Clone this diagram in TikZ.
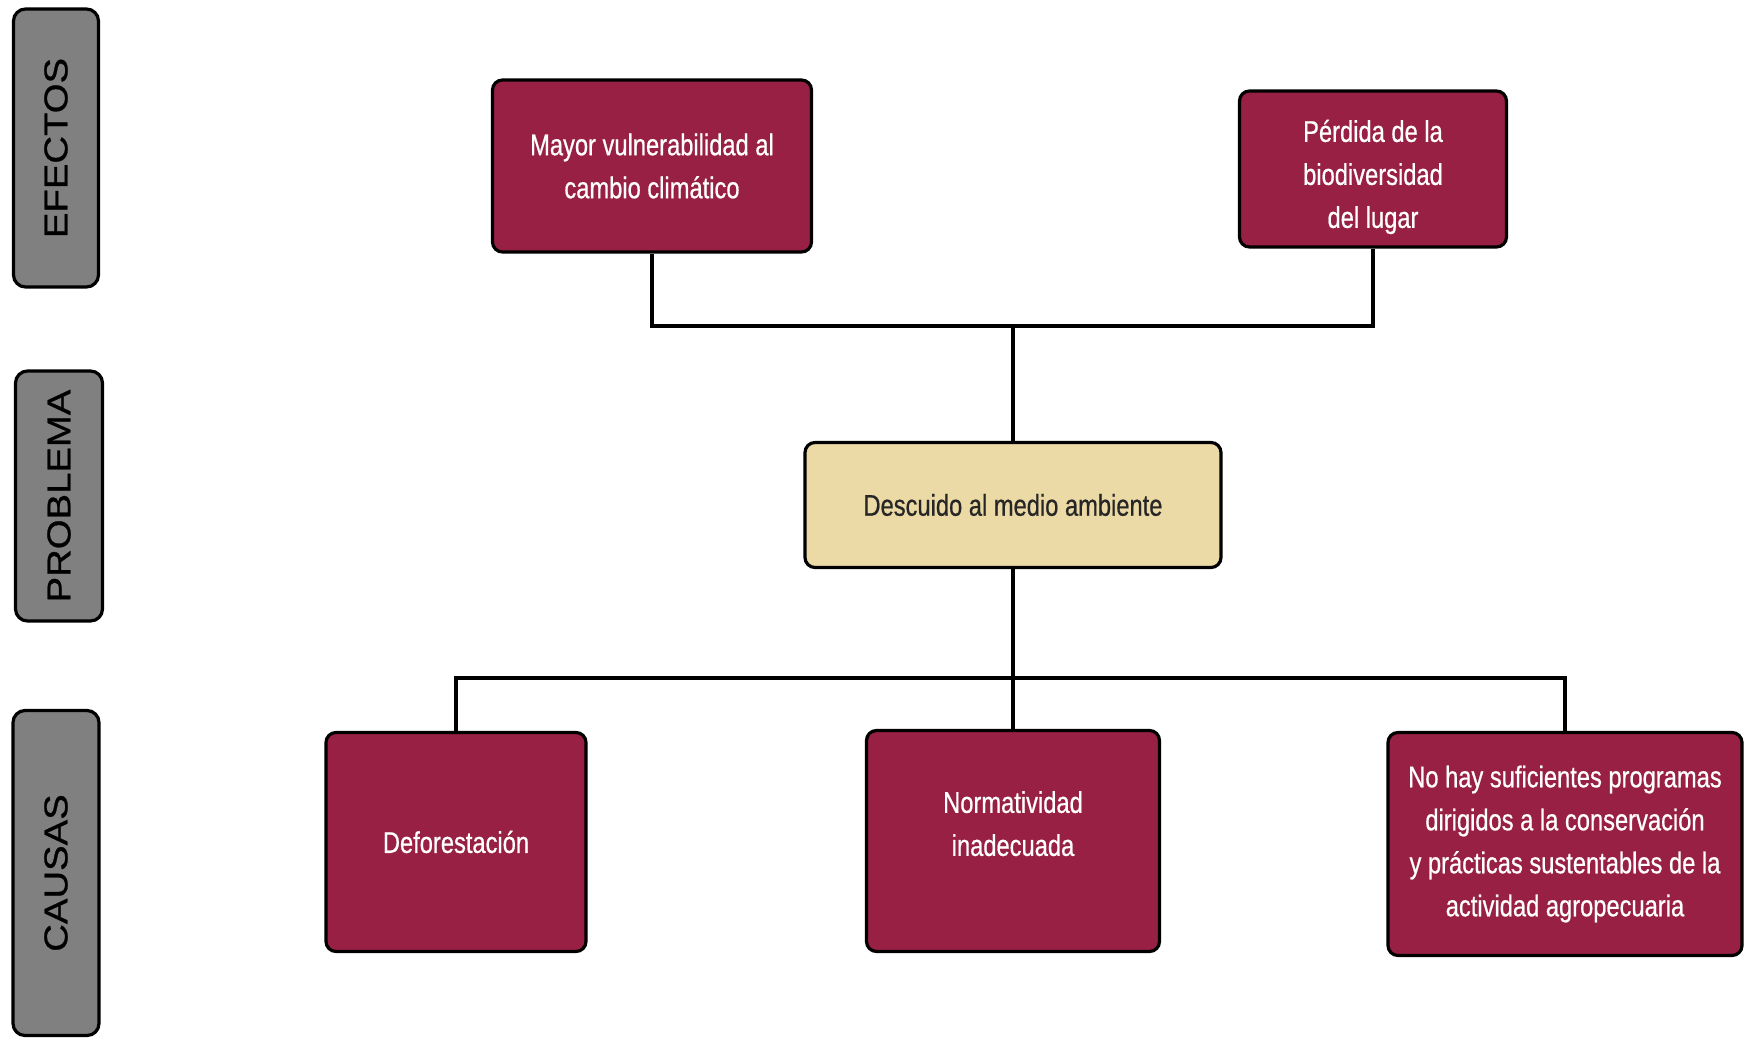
\documentclass[tikz,border=0pt]{standalone}
\usepackage{fontspec}
\setmainfont{Liberation Sans}
\newfontfamily\boxfont[FakeStretch=0.79,FakeBold=0.6]{Liberation Sans}
\newfontfamily\tagfont[FakeStretch=1.16,FakeBold=0.8]{Liberation Sans}
\usepackage{xcolor}
\definecolor{vino}{RGB}{152,32,68}
\definecolor{arena}{RGB}{236,218,166}
\definecolor{barra}{RGB}{128,128,128}

\begin{document}
\begin{tikzpicture}[
  x=1pt, y=-1pt,
  tag/.style={draw, line width=3.2pt, rounded corners=12pt, fill=barra, inner sep=0pt,
    font=\tagfont\fontsize{33}{36}\selectfont, text=black},
  box/.style={draw, line width=3.2pt, rounded corners=10pt, align=center, inner sep=0pt,
    font=\boxfont\fontsize{30}{43}\selectfont},
  effect/.style={box, fill=vino, text=white},
  link/.style={line width=3.2pt}
]
\useasboundingbox (0,0) rectangle (1745,1042);
\node[tag, minimum width=85, minimum height=278] (efectos) at (56,148) {\rotatebox{90}{EFECTOS}};
\node[tag, minimum width=87, minimum height=250] (problema) at (59,496) {\rotatebox{90}{PROBLEMA}};
\node[tag, minimum width=86, minimum height=325] (causas) at (56,873) {\rotatebox{90}{CAUSAS}};
\node[effect, minimum width=319, minimum height=172] (mayor) at (652,166) {Mayor vulnerabilidad al\\cambio climático};
\node[effect, minimum width=267, minimum height=156] (perdida) at (1373,169) {\mbox{}\\[-5pt]Pérdida de la\\biodiversidad\\del lugar};
\node[box, fill=arena, text=black!85, minimum width=416, minimum height=125] (descuido) at (1013,505) {Descuido al medio ambiente};
\node[effect, minimum width=260, minimum height=219] (defor) at (456,842) {Deforestación};
\node[effect, minimum width=293, minimum height=221] (norma) at (1013,841) {Normatividad\\inadecuada\\[-8pt]\mbox{}};
\node[effect, minimum width=354, minimum height=223] (nohay) at (1565,844) {No hay suficientes programas\\dirigidos a la conservación\\y prácticas sustentables de la\\actividad agropecuaria};
\coordinate (topbar) at (1013,326);
\coordinate (botbar) at (1013,678);
\draw[link] (mayor.south) |- (topbar) -| (perdida.south);
\draw[link] (topbar) -- (descuido.north);
\draw[link] (descuido.south) -- (norma.north);
\draw[link] (defor.north) |- (botbar) -| (nohay.north);
\end{tikzpicture}
\end{document}
